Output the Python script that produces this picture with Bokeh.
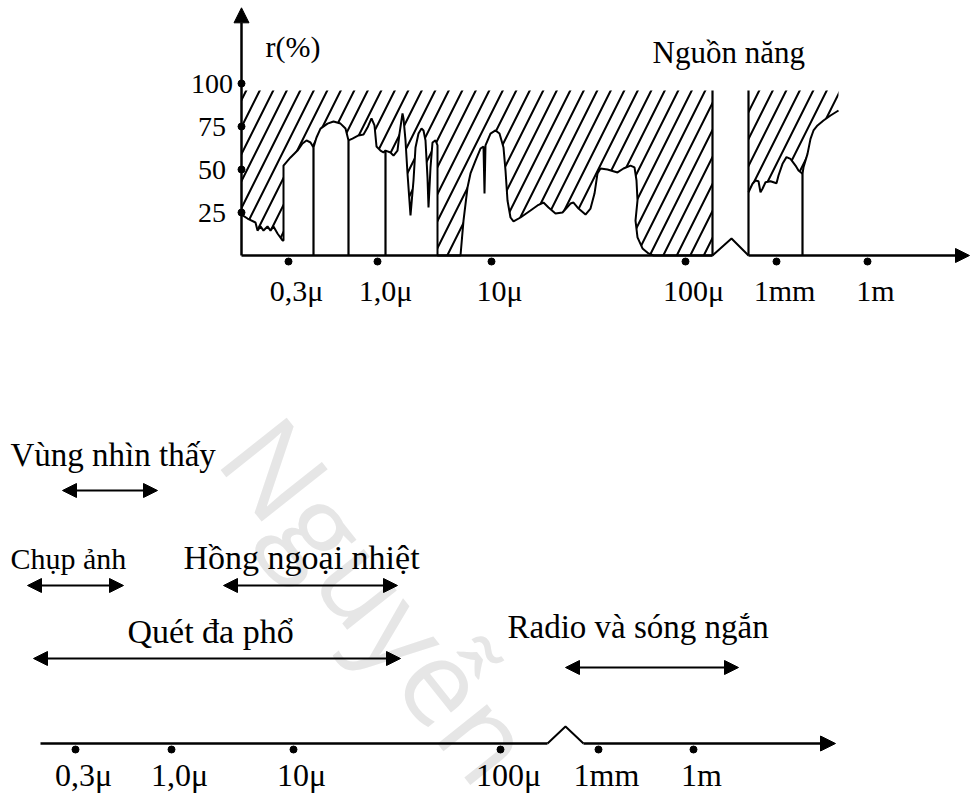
from bokeh.plotting import figure
from bokeh.models import Range1d, Arrow, NormalHead, ColumnDataSource
from bokeh.layouts import column
from bokeh.core.properties import value
from bokeh.embed import file_html
from bokeh.resources import INLINE

SERIF = value("Liberation Serif")

# ---------------- data: top chart (r % vs wavelength position) ----------------
tick_labels = ["0,3μ", "1,0μ", "10μ", "100μ", "1mm", "1m"]
top_tick_pos = [288, 377, 491, 685, 776, 867]
r_ticks = [25, 50, 75, 100]
r_tick_labels = ["25", "50", "75", "100"]
sky_top = 96  # upper edge of the hatched (absorption) zone, %

absorb_x = [241, 247, 255, 257, 260, 263, 267, 270, 273, 277, 282, 283,
            283, 290, 297, 302, 306, 310, 313,
            316, 320, 327, 333, 340, 345, 348,
            352, 358, 363, 367, 371, 374, 376, 380, 383, 385,
            390, 393, 397, 399, 402, 403, 405, 407, 410, 413, 415, 418, 421, 423,
            425, 427, 428, 430, 432, 435, 437, 437,
            460, 463, 467, 470, 475, 480, 483, 484, 485, 490, 495, 499, 503, 505,
            507, 510, 513, 520, 530, 537, 543, 548, 555, 562, 570, 573, 578, 585,
            590, 594, 597, 600, 607, 617, 623, 630, 634, 636, 637, 635, 637, 642,
            648, 653, 712]
absorb_r = [23.8, 21.5, 19.2, 14.5, 16.9, 14.5, 16.9, 14.5, 16.9, 12.8, 8.7, 8.7,
            52.3, 57.0, 61.0, 65.1, 66.9, 65.7, 62.8,
            68.6, 73.8, 76.7, 77.9, 76.7, 73.8, 66.9,
            68.0, 69.8, 70.3, 74.4, 79.7, 75.6, 63.4, 61.0, 59.9, 61.0,
            59.9, 58.1, 61.0, 70.9, 82.6, 79.7, 66.9, 47.7, 23.3, 43.6, 62.8, 70.9, 73.8, 72.7,
            66.9, 45.3, 27.9, 51.2, 65.7, 66.9, 64.0, 0,
            0, 20.3, 39.5, 47.7, 55.2, 62.2, 63.4, 36.0, 64.0, 70.9, 72.7, 70.9, 62.8, 49.4,
            32.0, 22.1, 19.8, 22.1, 26.2, 29.1, 30.8, 27.9, 24.4, 25.0, 30.2, 30.8, 27.3, 23.8,
            27.3, 36.0, 47.7, 50.6, 50.0, 48.3, 50.6, 52.3, 51.2, 43.6, 32.0, 20.3, 10.5, 4.1,
            1.2, 0, 0]

radio_x = [748, 752, 755, 758, 760, 762, 765, 770, 776, 778, 782, 786, 790, 795,
           798, 802, 803, 807, 810, 813, 817, 823, 830, 838]
radio_r = [36.8, 41.7, 43.6, 43.2, 36.8, 38.8, 42.6, 43.2, 42.0, 46.5, 53.3, 57.2,
           56.2, 52.3, 49.4, 47.5, 51.3, 59.1, 67.8, 72.7, 75.6, 78.5, 81.4, 84.3]

window_x = [313, 348, 385, 802]
window_r = [62.8, 66.9, 61.0, 47.5]
gap_x = [712, 748]
break_x = [712, 731, 748]
break_r = [0, 9.9, 0]

# ---------------- data: bottom diagram (sensor bands) ----------------
bottom_tick_pos = [75, 171, 293, 500, 598, 693]
band_names = ["Vùng nhìn thấy", "Chụp ảnh", "Hồng ngoại nhiệt", "Quét đa phổ", "Radio và sóng ngắn"]
band_start = [62, 27, 223, 33, 565]
band_end = [157, 123, 397, 400, 738]
band_row = [490, 585, 585, 658, 667]
label_x = [10, 10, 183, 127, 507]
label_row = [454, 558, 557, 631, 626]
label_size = ["33px", "30px", "34px", "34px", "33px"]
axis_break_x = [547, 565, 583]
axis_break_y = [743, 726, 743]

W = 972


def make_fig(h, yr):
    p = figure(width=W, height=h, x_range=Range1d(0, W), y_range=yr,
               output_backend="svg", toolbar_location=None,
               x_axis_location=None, y_axis_location=None,
               min_border=0, min_border_left=0, min_border_right=0,
               min_border_top=0, min_border_bottom=0,
               outline_line_color=None, background_fill_color="white",
               border_fill_color="white")
    p.grid.visible = False
    return p


# ================= TOP =================
top = make_fig(330, Range1d(-43.6, 148.26))

# hatched absorption zones
for hx, hr in ((absorb_x + [gap_x[0], absorb_x[0]], absorb_r + [sky_top, sky_top]),
               (radio_x + [radio_x[-1], radio_x[0]], radio_r + [sky_top, sky_top])):
    top.patch(hx, hr, fill_alpha=0, line_color=None, hatch_pattern="/",
              hatch_color="black", hatch_weight=2, hatch_scale=27)

# transmission curve
top.line(absorb_x, absorb_r, line_color="black", line_width=2)
top.line(radio_x, radio_r, line_color="black", line_width=2)
top.segment(x0=window_x, y0=[0] * len(window_x), x1=window_x, y1=window_r,
            line_color="black", line_width=2.2)
top.segment(x0=gap_x, y0=[0, 0], x1=gap_x, y1=[sky_top, sky_top],
            line_color="black", line_width=2.2)

# axes
top.line([absorb_x[0], gap_x[0]], [0, 0], line_color="black", line_width=2.5)
top.line(break_x, break_r, line_color="black", line_width=2)
top.add_layout(Arrow(end=NormalHead(size=14, fill_color="black", line_color="black"),
                     x_start=gap_x[1], y_start=0, x_end=969, y_end=0,
                     line_color="black", line_width=2.5))
top.add_layout(Arrow(end=NormalHead(size=15, fill_color="black", line_color="black"),
                     x_start=absorb_x[0], y_start=0, x_end=absorb_x[0], y_end=144,
                     line_color="black", line_width=2.5))

# ticks
top.scatter([absorb_x[0]] * len(r_ticks), r_ticks, size=7, color="black")
top.text([211.5] * len(r_ticks), r_ticks, text=r_tick_labels, text_font=SERIF,
         text_font_size="28px", text_align="center", text_baseline="middle", text_color="black")
top.scatter(top_tick_pos, [-3.5] * len(top_tick_pos), size=7, color="black")
top.text(top_tick_pos, [-20.3] * len(top_tick_pos), text=tick_labels, x_offset=8,
         text_font=SERIF, text_font_size="30px", text_align="center",
         text_baseline="middle", text_color="black")

top.text([265], [121.5], text=["r(%)"], text_font=SERIF, text_font_size="30px",
         text_align="left", text_baseline="middle", text_color="black")
top.text([652], [118.0], text=["Nguồn năng"], text_font=SERIF, text_font_size="31px",
         text_align="left", text_baseline="middle", text_color="black")

# ================= BOTTOM =================
bot = make_fig(465, Range1d(795, 330))

# faint watermark
bot.text([380], [598], text=["Nguyễn"], angle=-0.9, text_font=value("Open Sans"),
         text_font_size="118px", text_align="center", text_baseline="middle",
         text_color="#e6e6e6")

src = ColumnDataSource(dict(x0=band_start, x1=band_end, y=band_row))
bot.add_layout(Arrow(start=NormalHead(size=14, fill_color="black", line_color="black"),
                     end=NormalHead(size=14, fill_color="black", line_color="black"),
                     x_start="x0", y_start="y", x_end="x1", y_end="y", source=src,
                     line_color="black", line_width=2))
for name, lx, ly, fs in zip(band_names, label_x, label_row, label_size):
    bot.text([lx], [ly], text=[name], text_font=SERIF, text_font_size=fs,
             text_align="left", text_baseline="middle", text_color="black")

bot.line([40, axis_break_x[0]], [743, 743], line_color="black", line_width=2.5)
bot.line(axis_break_x, axis_break_y, line_color="black", line_width=2)
bot.add_layout(Arrow(end=NormalHead(size=15, fill_color="black", line_color="black"),
                     x_start=axis_break_x[-1], y_start=743, x_end=835, y_end=743,
                     line_color="black", line_width=2.5))
bot.scatter(bottom_tick_pos, [749] * len(bottom_tick_pos), size=7, color="black")
bot.text(bottom_tick_pos, [774] * len(bottom_tick_pos), text=tick_labels, x_offset=8,
         text_font=SERIF, text_font_size="32px", text_align="center",
         text_baseline="middle", text_color="black")

layout = column(top, bot, spacing=0)
open("out.html", "w").write(file_html(layout, INLINE))
